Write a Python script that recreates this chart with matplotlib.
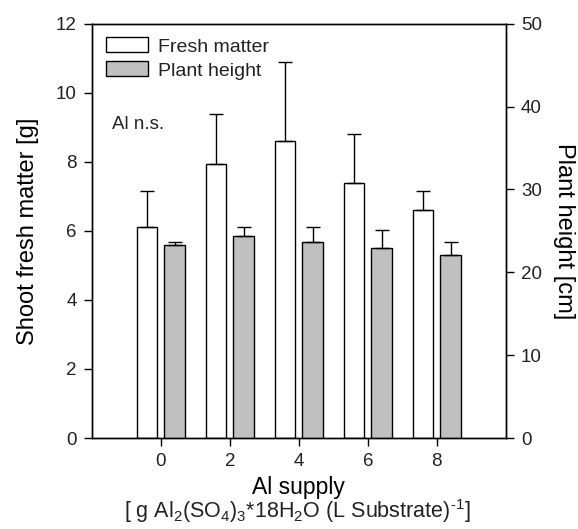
import matplotlib.pyplot as plt

plt.rcParams['font.family'] = ['Liberation Sans', 'DejaVu Sans']
plt.rcParams['mathtext.fontset'] = 'custom'
plt.rcParams['mathtext.rm'] = 'Liberation Sans'
plt.rcParams['text.color'] = '#222222'

# Al supply (g per L substrate)
doses = [0, 2, 4, 6, 8]
fresh = [6.1, 7.95, 8.6, 7.38, 6.6]
fresh_sd = [1.05, 1.45, 2.3, 1.44, 0.55]
height = [23.3, 24.4, 23.7, 22.9, 22.1]
height_sd = [0.4, 1.1, 1.8, 2.2, 1.6]

fig = plt.figure(figsize=(5.78, 5.29), dpi=100)
ax = fig.add_axes([0.159, 0.172, 0.716, 0.783])
ax2 = ax.twinx()

w = 0.6
x1 = [d - 0.4 for d in doses]
x2 = [d + 0.4 for d in doses]
b1 = ax.bar(x1, fresh, width=w, color='white', edgecolor='black', linewidth=1, zorder=2)
ax.errorbar(x1, fresh, yerr=[[0] * 5, fresh_sd], fmt='none', ecolor='black',
            elinewidth=1, capsize=5, capthick=1, zorder=3)
b2 = ax2.bar(x2, height, width=w, color='#c0c0c0', edgecolor='black', linewidth=1, zorder=2)
ax2.errorbar(x2, height, yerr=[[0] * 5, height_sd], fmt='none', ecolor='black',
             elinewidth=1, capsize=5, capthick=1, zorder=3)

ax.set_xlim(-2, 10)
ax.set_ylim(0, 12)
ax2.set_ylim(0, 50)
ax.set_xticks(doses)
ax.set_yticks(range(0, 13, 2))
ax2.set_yticks(range(0, 51, 10))
for a in (ax, ax2):
    a.tick_params(direction='out', length=6, width=1, pad=5, labelsize=13.5,
                  colors='black', labelcolor='#222222')
    for s in a.spines.values():
        s.set_linewidth(1)

ax.set_ylabel('Shoot fresh matter [g]', fontsize=17, labelpad=12)
ax2.set_ylabel('Plant height [cm]', fontsize=17, rotation=270, labelpad=24)
ax.set_xlabel('Al supply', fontsize=16.5, labelpad=4)
fig.text(0.515, 0.034, '[ g Al$_2$(SO$_4$)$_3$*18H$_2$O (L Substrate)$^{\u2010 1}$]',
         fontsize=15.5, ha='center', va='center')

ax.text(0.048, 0.756, 'Al n.s.', transform=ax.transAxes, fontsize=13.5, va='center')

ax.legend([b1, b2], ['Fresh matter', 'Plant height'], loc='upper left', frameon=False,
          fontsize=14, handlelength=2.2, handleheight=0.8, handletextpad=0.5,
          labelspacing=0.3, borderaxespad=0.4, borderpad=0.3)

fig.savefig('out.png', dpi=100)
